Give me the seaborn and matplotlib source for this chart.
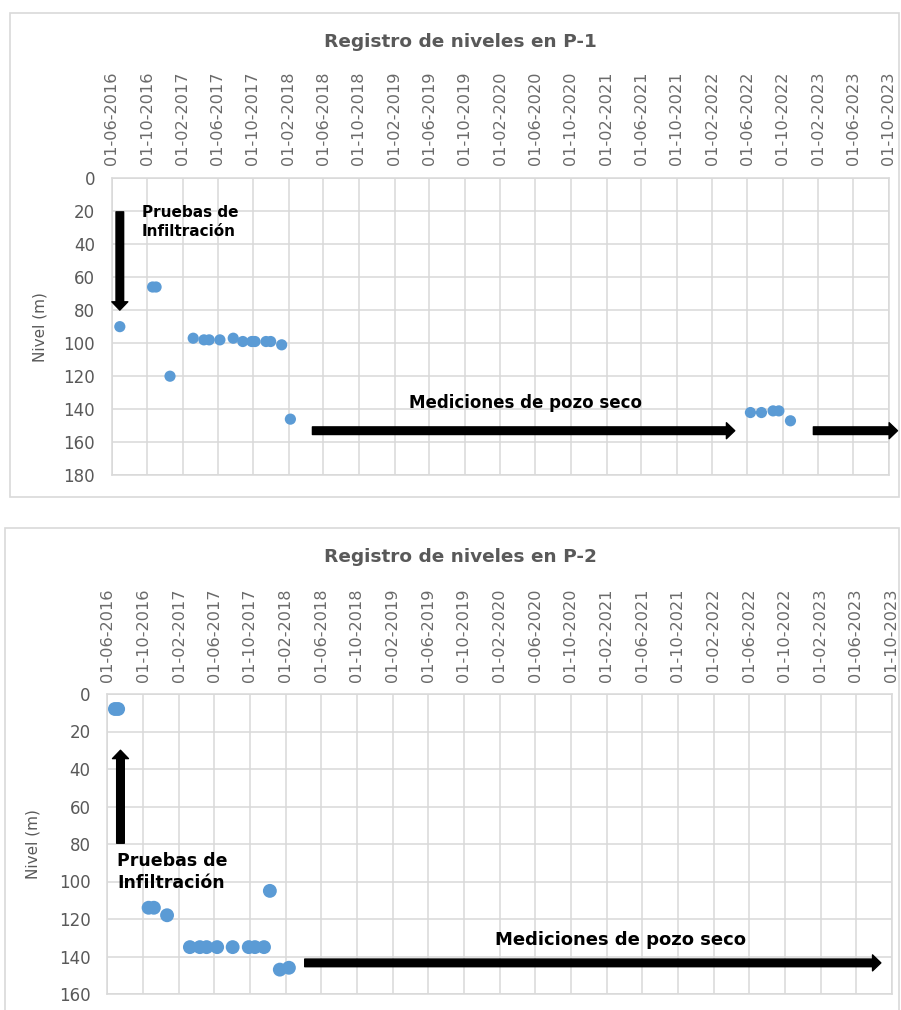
import pandas as pd
import matplotlib
matplotlib.use("Agg")
import matplotlib.pyplot as plt
import matplotlib.dates as mdates
from matplotlib.patches import Rectangle, FancyArrowPatch
import seaborn as sns

# Datos (fecha de medición, nivel en m)
fechas_p1 = ['2016-06-29', '2016-10-20', '2016-11-01', '2016-12-19', '2017-03-09',
             '2017-04-15', '2017-05-03', '2017-06-09', '2017-07-25', '2017-08-27',
             '2017-09-27', '2017-10-08', '2017-11-15', '2017-12-01', '2018-01-08',
             '2018-02-07', '2022-06-12', '2022-07-20', '2022-08-29', '2022-09-18',
             '2022-10-28']
nivel_p1 = [90, 66, 66, 120, 97, 98, 98, 98, 97, 99, 99, 99, 99, 99, 101,
            146, 142, 142, 141, 141, 147]

fechas_p2 = ['2016-06-27', '2016-07-08', '2016-10-20', '2016-11-07', '2016-12-22',
             '2017-03-10', '2017-04-13', '2017-05-06', '2017-06-11', '2017-08-03',
             '2017-09-27', '2017-10-18', '2017-11-18', '2017-12-08', '2018-01-11',
             '2018-02-11']
nivel_p2 = [8, 8, 114, 114, 118, 135, 135, 135, 135, 135, 135, 135, 135,
            105, 147, 146]

titulos = ['Registro de niveles en P-1', 'Registro de niveles en P-2']
ylims = [180, 160]

sns.set_style('white')
plt.rcParams['font.family'] = ['DejaVu Sans']

GRID = '#d9d9d9'
TXT = '#595959'
BLUE = '#5b9bd5'

W, H = 901, 1010
fig = plt.figure(figsize=(W / 100, H / 100), dpi=100)


def fx(px):
    return px / W


def fy(py):
    return 1 - py / H


def d(s):
    return mdates.date2num(pd.Timestamp(s))


# marcos de cada gráfico
fig.add_artist(Rectangle((fx(10), fy(497)), fx(889), (497 - 13) / H,
                         transform=fig.transFigure, fill=False,
                         edgecolor=GRID, lw=1.2, zorder=0))
fig.add_artist(Rectangle((fx(5), fy(1013)), fx(894), (1013 - 528) / H,
                         transform=fig.transFigure, fill=False,
                         edgecolor=GRID, lw=1.2, zorder=0))

ax1 = fig.add_axes([fx(111.7), fy(475.3), (888.5 - 111.7) / W, (475.3 - 178) / H])
ax2 = fig.add_axes([fx(107.3), fy(994), (891.7 - 107.3) / W, (994 - 694) / H])


def estilo(ax, ymax):
    ax.set_xlim(d('2016-06-01'), d('2023-10-01'))
    ax.set_ylim(ymax, 0)
    ax.set_yticks(range(0, ymax + 1, 20))
    ax.xaxis.set_major_locator(mdates.MonthLocator(bymonth=[2, 6, 10], bymonthday=1))
    ax.xaxis.set_major_formatter(mdates.DateFormatter('%d-%m-%Y'))
    ax.xaxis.tick_top()
    ax.tick_params(axis='x', length=0, pad=9, labelsize=11.6, labelcolor='#6a6a6a',
                   rotation=90)
    ax.tick_params(axis='y', length=0, pad=12, labelsize=12, labelcolor=TXT)
    ax.grid(True, color=GRID, lw=1.1)
    ax.set_axisbelow(True)
    for sp in ax.spines.values():
        sp.set_color(GRID)
        sp.set_linewidth(1.1)
    ax.set_xlabel('')
    ax.set_ylabel('Nivel (m)', fontsize=11, color=TXT)


def flecha(ax, x0, y0, x1, y1):
    a = FancyArrowPatch((d(x0), y0), (d(x1), y1),
                        arrowstyle='simple,head_width=11.5,head_length=6,tail_width=5.5',
                        mutation_scale=1, shrinkA=0, shrinkB=0,
                        color='black', clip_on=False, zorder=5)
    ax.add_patch(a)


df1 = pd.DataFrame({'Fecha': pd.to_datetime(fechas_p1), 'Nivel': nivel_p1})
df2 = pd.DataFrame({'Fecha': pd.to_datetime(fechas_p2), 'Nivel': nivel_p2})

sns.scatterplot(data=df1, x='Fecha', y='Nivel', ax=ax1, s=65, color=BLUE,
                edgecolor='none', linewidth=0, zorder=4)
sns.scatterplot(data=df2, x='Fecha', y='Nivel', ax=ax2, s=100, color=BLUE,
                edgecolor='none', linewidth=0, zorder=4)

estilo(ax1, ylims[0])
estilo(ax2, ylims[1])
ax1.yaxis.set_label_coords(-0.083, 0.5)
ax2.yaxis.set_label_coords(-0.085, 0.5)

fig.text(fx(460), fy(42), titulos[0], ha='center', va='center',
         fontsize=13.3, fontweight='bold', color=TXT)
fig.text(fx(460), fy(557), titulos[1], ha='center', va='center',
         fontsize=13.3, fontweight='bold', color=TXT)

# anotaciones P-1
flecha(ax1, '2016-06-29', 20.5, '2016-06-29', 80)
ax1.text(d('2016-09-12'), 26.8, 'Pruebas de\nInfiltración', ha='left', va='center',
         fontsize=11, fontweight='bold', color='black', linespacing=1.35)
ax1.text(d('2020-04-27'), 136, 'Mediciones de pozo seco', ha='center', va='center',
         fontsize=12, fontweight='bold', color='black')
flecha(ax1, '2018-04-24', 153, '2022-04-19', 153)
flecha(ax1, '2023-01-15', 153, '2023-11-01', 153)

# anotaciones P-2
flecha(ax2, '2016-07-16', 79.6, '2016-07-16', 30)
ax2.text(d('2016-07-05'), 95, 'Pruebas de\nInfiltración', ha='left', va='center',
         fontsize=12.5, fontweight='bold', color='black', linespacing=1.25)
ax2.text(d('2021-03-18'), 131, 'Mediciones de pozo seco', ha='center', va='center',
         fontsize=13, fontweight='bold', color='black')
flecha(ax2, '2018-04-06', 143.4, '2023-08-25', 143.4)

fig.savefig('out.png', dpi=100)
